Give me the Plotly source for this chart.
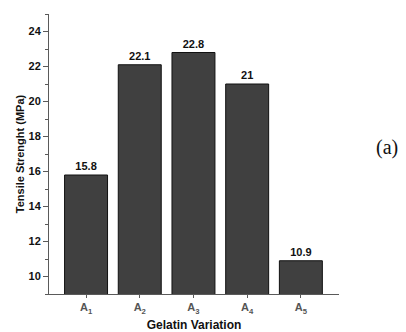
import plotly.graph_objects as go

# Tensile strength per gelatin variation
categories = ["A<sub>1</sub>", "A<sub>2</sub>", "A<sub>3</sub>", "A<sub>4</sub>", "A<sub>5</sub>"]
tensile_strength = [15.8, 22.1, 22.8, 21, 10.9]
y_ticks = [10, 12, 14, 16, 18, 20, 22, 24]

font_family = "Liberation Sans, Arial, sans-serif"
axis_color = "#5a5a5a"

fig = go.Figure(
    go.Bar(
        x=list(range(len(categories))),
        y=tensile_strength,
        width=0.8,
        marker=dict(color="#404040", line=dict(color="#111111", width=1)),
        text=[f"<b>{v}</b>" for v in tensile_strength],
        textposition="outside",
        textfont=dict(family=font_family, size=11, color="#111111"),
        cliponaxis=False,
    )
)

fig.update_layout(
    width=406,
    height=332,
    margin=dict(l=49, r=67, t=14, b=38),
    plot_bgcolor="white",
    paper_bgcolor="white",
    showlegend=False,
    bargap=0.2,
    font=dict(family=font_family, color="#111111"),
)

fig.update_xaxes(
    range=[-0.69, 4.71],
    automargin=False,
    tickmode="array",
    tickvals=list(range(len(categories))),
    ticktext=[f"<b>{c}</b>" for c in categories],
    tickfont=dict(family=font_family, size=11, color="#555555"),
    ticks="outside",
    ticklen=3,
    tickwidth=1,
    tickcolor=axis_color,
    showline=True,
    linecolor=axis_color,
    linewidth=1,
    showgrid=False,
    zeroline=False,
    title=dict(text="<b>Gelatin Variation</b>", font=dict(family=font_family, size=12), standoff=14),
)

fig.update_yaxes(
    range=[9, 25],
    automargin=False,
    tickmode="array",
    tickvals=y_ticks,
    ticktext=[f"<b>{t}</b>" for t in y_ticks],
    tickfont=dict(family=font_family, size=11, color="#111111"),
    ticks="outside",
    ticklen=5,
    tickwidth=1,
    tickcolor=axis_color,
    minor=dict(ticks="outside", ticklen=3, tickwidth=1, tickcolor=axis_color, dtick=1, tick0=0),
    showline=True,
    linecolor=axis_color,
    linewidth=1,
    showgrid=False,
    zeroline=False,
    title=dict(text="<b>Tensile Strenght (MPa)</b>", font=dict(family=font_family, size=11), standoff=1),
)

fig.add_annotation(
    text="(a)",
    xref="paper",
    yref="paper",
    x=1.12,
    y=0.525,
    xanchor="left",
    yanchor="middle",
    showarrow=False,
    font=dict(family="Liberation Serif, Times New Roman, serif", size=20, color="#111111"),
)

fig.write_html("out.html")
